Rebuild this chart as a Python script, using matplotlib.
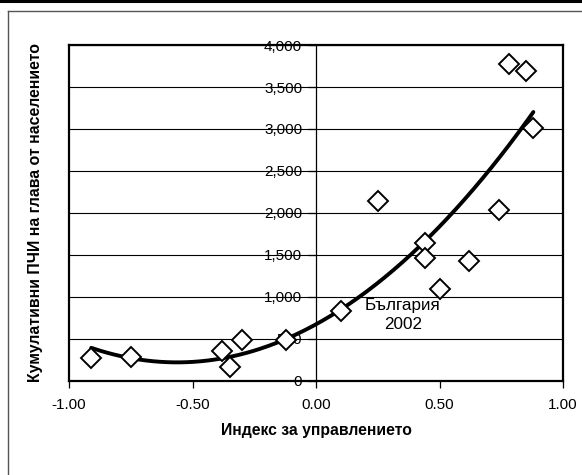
import numpy as np
import matplotlib
matplotlib.use("Agg")
import matplotlib.pyplot as plt
from matplotlib.lines import Line2D
from matplotlib.ticker import FuncFormatter

plt.rcParams['font.family'] = ['Liberation Sans', 'DejaVu Sans']

# Governance index vs. cumulative FDI per capita
governance = [-0.91, -0.75, -0.38, -0.35, -0.30, -0.12, 0.10, 0.25,
              0.44, 0.44, 0.50, 0.62, 0.74, 0.78, 0.85, 0.88]
fdi_per_capita = [270, 290, 360, 170, 485, 485, 835, 2145,
                  1640, 1460, 1095, 1430, 2035, 3775, 3695, 3015]

x_ticks = [-1.0, -0.5, 0.0, 0.5, 1.0]
y_ticks = [0, 500, 1000, 1500, 2000, 2500, 3000, 3500, 4000]
annotation = "България\n2002"
x_title = "Индекс за управлението"
y_title = "Кумулативни ПЧИ на глава от населението"

W, H = 582, 475
fig = plt.figure(figsize=(W / 100, H / 100), dpi=100)
fig.patch.set_facecolor('white')

# outer chart frame
fig.add_artist(Line2D([0, 1], [1 - 1.2 / H, 1 - 1.2 / H], color='black', lw=2.2))
fig.add_artist(Line2D([7.5 / W, 1], [1 - 10.5 / H, 1 - 10.5 / H], color='#555555', lw=1.0))
fig.add_artist(Line2D([7.5 / W, 7.5 / W], [0, 1 - 10.5 / H], color='#555555', lw=1.0))

ax = fig.add_axes([69 / W, (H - 381) / H, 494 / W, 336 / H])
ax.set_xlim(-1, 1)
ax.set_ylim(0, 4000)

# plot-area border
for side in ['top', 'right', 'bottom']:
    ax.spines[side].set_linewidth(1.6)
    ax.spines[side].set_color('black')
ax.plot([0, 0], [0, 1], transform=ax.transAxes, color='black', lw=1.6, clip_on=False, zorder=5)

# y axis drawn through x = 0
ax.spines['left'].set_position(('data', 0))
ax.spines['left'].set_linewidth(0.9)

ax.set_xticks(x_ticks)
ax.set_yticks(y_ticks)
ax.xaxis.set_major_formatter(FuncFormatter(lambda v, p: f"{v:.2f}"))
ax.yaxis.set_major_formatter(FuncFormatter(lambda v, p: f"{int(v):,}"))
ax.tick_params(axis='x', direction='out', length=5, width=0.9, pad=7, labelsize=11)
ax.tick_params(axis='y', direction='out', length=6, width=0.9, pad=4, labelsize=11)

ax.yaxis.grid(True, color='black', lw=0.8)
ax.set_axisbelow(True)

# quadratic trend line over the data range
coef = np.polyfit(governance, fdi_per_capita, 2)
xs = np.linspace(min(governance), max(governance), 200)
ax.plot(xs, np.polyval(coef, xs), color='black', lw=2.8, zorder=3, solid_capstyle='round')

ax.plot(governance, fdi_per_capita, linestyle='none', marker='D', markersize=10,
        markerfacecolor='white', markeredgecolor='black', markeredgewidth=1.4, zorder=4,
        clip_on=False)

ax.text(0.351, 786, annotation, ha='center', va='center', fontsize=12.3, linespacing=1.3,
        zorder=6)

fig.text(316 / W, 1 - 431 / H, x_title, ha='center', va='center', fontsize=11.3,
         fontweight='bold')
fig.text(36 / W, 1 - 212 / H, y_title, ha='center', va='center', rotation=90,
         fontsize=11.4, fontweight='bold')

fig.savefig('out.png', dpi=100, facecolor='white')
